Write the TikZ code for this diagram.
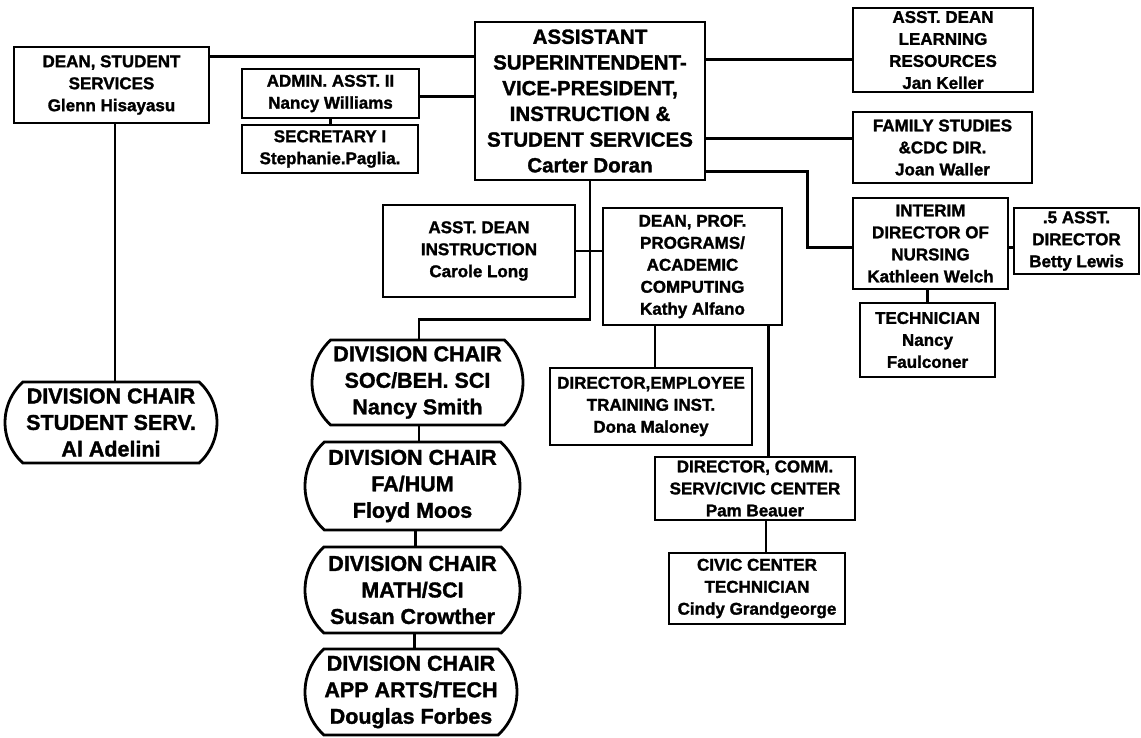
\documentclass[tikz,border=0pt]{standalone}
\usepackage{fontspec}
\setmainfont{Liberation Sans}[BoldFeatures={FakeBold=1.5}]
\usetikzlibrary{shapes.misc}

\begin{document}
\begin{tikzpicture}[x=1pt,y=-1pt,line width=2.8pt,
  box/.style={draw,rectangle,align=center,inner sep=0pt,font=\bfseries\fontsize{17}{22}\selectfont},
  topbox/.style={box,font=\bfseries\fontsize{20.5}{25.7}\selectfont},
  chair/.style={draw,rounded rectangle,rounded rectangle arc length=95,align=center,inner sep=0pt,font=\bfseries\fontsize{21.5}{26.5}\selectfont}]
  \useasboundingbox (0,0) rectangle (1141,737);

  \node[topbox,minimum width=230pt,minimum height=158pt] (asup) at (590,101)
    {ASSISTANT\\SUPERINTENDENT-\\VICE-PRESIDENT,\\INSTRUCTION \&\\STUDENT SERVICES\\Carter Doran};

  \node[box,minimum width=195pt,minimum height=76pt] (deanss) at (111.5,85) {DEAN, STUDENT\\SERVICES\\Glenn Hisayasu};
  \node[box,minimum width=177pt,minimum height=49pt] (admin) at (330.5,93.5) {ADMIN. ASST. II\\Nancy Williams};
  \node[box,minimum width=176pt,minimum height=48pt] (secr) at (330,149) {SECRETARY I\\Stephanie.Paglia.};

  \node[box,minimum width=180pt,minimum height=84pt] (adlr) at (943,50) {ASST. DEAN\\LEARNING\\RESOURCES\\Jan Keller};
  \node[box,minimum width=179pt,minimum height=71pt] (family) at (942.5,147.5) {FAMILY STUDIES\\\&CDC DIR.\\Joan Waller};
  \node[box,minimum width=155pt,minimum height=91pt] (nursing) at (930.5,243.5) {INTERIM\\DIRECTOR OF\\NURSING\\Kathleen Welch};
  \node[box,minimum width=125pt,minimum height=66pt] (betty) at (1076.5,241) {.5 ASST.\\DIRECTOR\\Betty Lewis};
  \node[box,minimum width=135pt,minimum height=74pt] (technician) at (927.5,340) {TECHNICIAN\\Nancy\\Faulconer};

  \node[box,minimum width=192pt,minimum height=92pt] (adinst) at (479,251) {ASST. DEAN\\INSTRUCTION\\Carole Long};
  \node[box,minimum width=179pt,minimum height=117pt] (deanprof) at (692.5,266.5) {DEAN, PROF.\\PROGRAMS/\\ACADEMIC\\COMPUTING\\Kathy Alfano};
  \node[box,minimum width=202pt,minimum height=77pt] (diremp) at (651,406.5) {DIRECTOR,EMPLOYEE\\TRAINING INST.\\Dona Maloney};
  \node[box,minimum width=200pt,minimum height=63pt] (dircomm) at (755,488.5) {DIRECTOR, COMM.\\SERV/CIVIC CENTER\\Pam Beauer};
  \node[box,minimum width=176pt,minimum height=71pt] (civic) at (757,588.5) {CIVIC CENTER\\TECHNICIAN\\Cindy Grandgeorge};

  \node[chair,minimum width=212pt,minimum height=81pt] (divss) at (111,422.5) {DIVISION CHAIR\\STUDENT SERV.\\Al Adelini};
  \node[chair,minimum width=211pt,minimum height=85pt] (divsoc) at (417.5,382.5) {DIVISION CHAIR\\SOC/BEH. SCI\\Nancy Smith};
  \node[chair,minimum width=215pt,minimum height=88pt] (divfa) at (412.5,486) {DIVISION CHAIR\\FA/HUM\\Floyd Moos};
  \node[chair,minimum width=215pt,minimum height=86pt] (divmath) at (412.5,590) {DIVISION CHAIR\\MATH/SCI\\Susan Crowther};
  \node[chair,minimum width=212pt,minimum height=86pt] (divapp) at (411,692) {DIVISION CHAIR\\APP ARTS/TECH\\Douglas Forbes};

  \draw ([yshift=-11pt]deanss.north east) -- ([yshift=-11pt]deanss.north east -| asup.west);
  \draw ([yshift=-3pt]admin.east) -- ([yshift=-3pt]admin.east -| asup.west);
  \draw (admin.south) -- (admin.south |- secr.north);
  \draw ([yshift=-53pt]adlr.north west) -- ([yshift=-53pt]adlr.north west -| asup.east);
  \draw ([yshift=-28pt]family.north west) -- ([yshift=-28pt]family.north west -| asup.east);
  \draw ([yshift=10pt]asup.south east) -- ++(101,0) |- ([yshift=-4pt]nursing.west);
  \draw ([yshift=-4pt]nursing.east) -- ([yshift=-4pt]nursing.east -| betty.west);
  \draw (technician.north) -- (technician.north |- nursing.south);

  \draw (asup.south) -- ++(0,138) -| ([xshift=1.5pt]divsoc.north);
  \draw (adinst.east) -- (adinst.east -| deanprof.west);
  \draw ([xshift=4pt]diremp.north) -- ([xshift=4pt]diremp.north |- deanprof.south);
  \draw ([xshift=-15pt]deanprof.south east) -- ([xshift=-15pt]deanprof.south east |- dircomm.north);
  \draw ([xshift=9pt]civic.north) -- ([xshift=9pt]civic.north |- dircomm.south);

  \draw ([xshift=1.5pt]divsoc.south) -- ([xshift=1.5pt]divsoc.south |- divfa.north);
  \draw ([xshift=3pt]divfa.south) -- ([xshift=3pt]divfa.south |- divmath.north);
  \draw ([xshift=2pt]divmath.south) -- ([xshift=2pt]divmath.south |- divapp.north);
  \draw ([xshift=3.5pt]deanss.south) -- ([xshift=3.5pt]deanss.south |- divss.north);
\end{tikzpicture}
\end{document}
